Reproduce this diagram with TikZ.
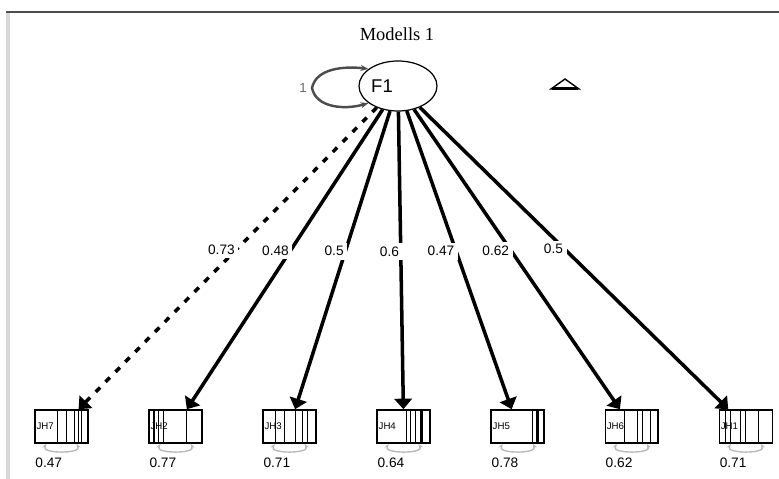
\documentclass[tikz,border=0pt]{standalone}
\usepackage{fontspec}
\setmainfont{Liberation Serif}
\setsansfont{Liberation Sans}
\usetikzlibrary{arrows.meta,positioning,shapes.geometric}

\newcommand{\boxbars}[3][0.6pt]{%
  \foreach \o in {#3}
    \draw[line width=#1] ([xshift=\o*0.02cm]#2.north west) -- ([xshift=\o*0.02cm]#2.south west);}
\newcommand{\errarc}[1]{%
  \draw[errv] ([xshift=-0.3cm]#1.south) to[out=-120,in=-60] ([xshift=0.3cm]#1.south);}

\begin{document}
\begin{tikzpicture}[x=0.02cm, y=-0.02cm,
    latent/.style={draw, ellipse, line width=0.7pt, minimum width=1.56cm, minimum height=1cm},
    obs/.style={draw, rectangle, line width=0.9pt, minimum height=0.66cm, text width=1.0cm,
      inner xsep=0.03cm, align=left, font=\fontsize{5.5}{6}\selectfont\sffamily},
    load/.style={line width=2pt, -{Triangle[length=6pt,width=10pt]}},
    lab/.style={fill=white, anchor=east, xshift=0.07cm, inner sep=2pt, font=\fontsize{7.8}{9}\selectfont\sffamily},
    val/.style={inner sep=0.5pt, font=\fontsize{7.8}{9}\selectfont\sffamily},
    errv/.style={gray!55, line width=0.8pt, {Stealth[length=3pt]}-{Stealth[length=3pt]}}]
    \useasboundingbox (0,0) rectangle (779,479);
    % frame
    \draw[gray!30, line width=2.5pt] (8,12) -- (8,479);
    \draw[black!70, line width=0.8pt] (6,12) -- (779,12);

    \node[font=\fontsize{10.5}{12}\selectfont] (ttl) at (397,34) {Modells 1};
    \node[latent, label={[name=f1txt, xshift=-0.32cm, font=\fontsize{10.5}{12}\selectfont\sffamily]center:F1}] (F1) at (398,86) {};
    \node[font=\fontsize{7.5}{8}\selectfont\sffamily, text=black!60] (one) at (303,88) {1};
    \coordinate (vl) at (312,88);
    \draw[line width=1.4pt, black!70, {Stealth[length=4.5pt]}-{Stealth[length=4.5pt]}] (F1.150) .. controls (345,66) and (316,68) .. (vl) .. controls (316,108) and (345,110) .. (F1.210);

    % mean triangle
    \draw[line width=0.8pt] (551,89) -- (565,79) -- (579,89) -- cycle;
    \draw[line width=1.8pt] (552,88.5) -- (578,88.5);

    % observed items
    \node[obs] (b1) at (61.5,426.5) {JH7};
    \node[obs, right=1.19cm of b1] (b2) {JH2};
    \node[obs, right=1.19cm of b2] (b3) {JH3};
    \node[obs, right=1.19cm of b3] (b4) {JH4};
    \node[obs, right=1.19cm of b4] (b5) {JH5};
    \node[obs, right=1.19cm of b5] (b6) {JH6};
    \node[obs, right=1.19cm of b6] (b7) {JH1};

    \boxbars{b1}{23,32,40,44,47}
    \boxbars{b2}{10,15,38}
    \boxbars[1.2pt]{b2}{6}
    \boxbars{b3}{13,22,33,40,45}
    \boxbars{b4}{30,34,39}
    \boxbars[1.5pt]{b4}{45}
    \boxbars{b5}{42}
    \boxbars[1.5pt]{b5}{47}
    \boxbars{b6}{20,33,38,46}
    \boxbars{b7}{7,12,22,27,40}

    % loadings
    \draw[load, dash pattern=on 3.5pt off 4.5pt] (F1) -- node[lab, pos=0.47] (l1) {0.73} (b1);
    \draw[load] (F1) -- node[lab, pos=0.47] (l2) {0.48} (b2);
    \draw[load] (F1) -- node[lab, pos=0.47] (l3) {0.5} (b3);
    \draw[load] (F1) -- node[lab, pos=0.47] (l4) {0.6} (b4);
    \draw[load] (F1) -- node[lab, pos=0.47] (l5) {0.47} (b5);
    \draw[load] (F1) -- node[lab, pos=0.47] (l6) {0.62} (b6);
    \draw[load] (F1) -- node[lab, pos=0.47] (l7) {0.5} (b7);

    % error variances
    \errarc{b1} \errarc{b2} \errarc{b3} \errarc{b4}
    \errarc{b5} \errarc{b6} \errarc{b7}

    \node[val, below right=0.26cm and 0cm of b1.south west] (v1) {0.47};
    \node[val, below right=0.26cm and 0cm of b2.south west] (v2) {0.77};
    \node[val, below right=0.26cm and 0cm of b3.south west] (v3) {0.71};
    \node[val, below right=0.26cm and 0cm of b4.south west] (v4) {0.64};
    \node[val, below right=0.26cm and 0cm of b5.south west] (v5) {0.78};
    \node[val, below right=0.26cm and 0cm of b6.south west] (v6) {0.62};
    \node[val, below right=0.26cm and 0cm of b7.south west] (v7) {0.71};
\end{tikzpicture}
\end{document}
